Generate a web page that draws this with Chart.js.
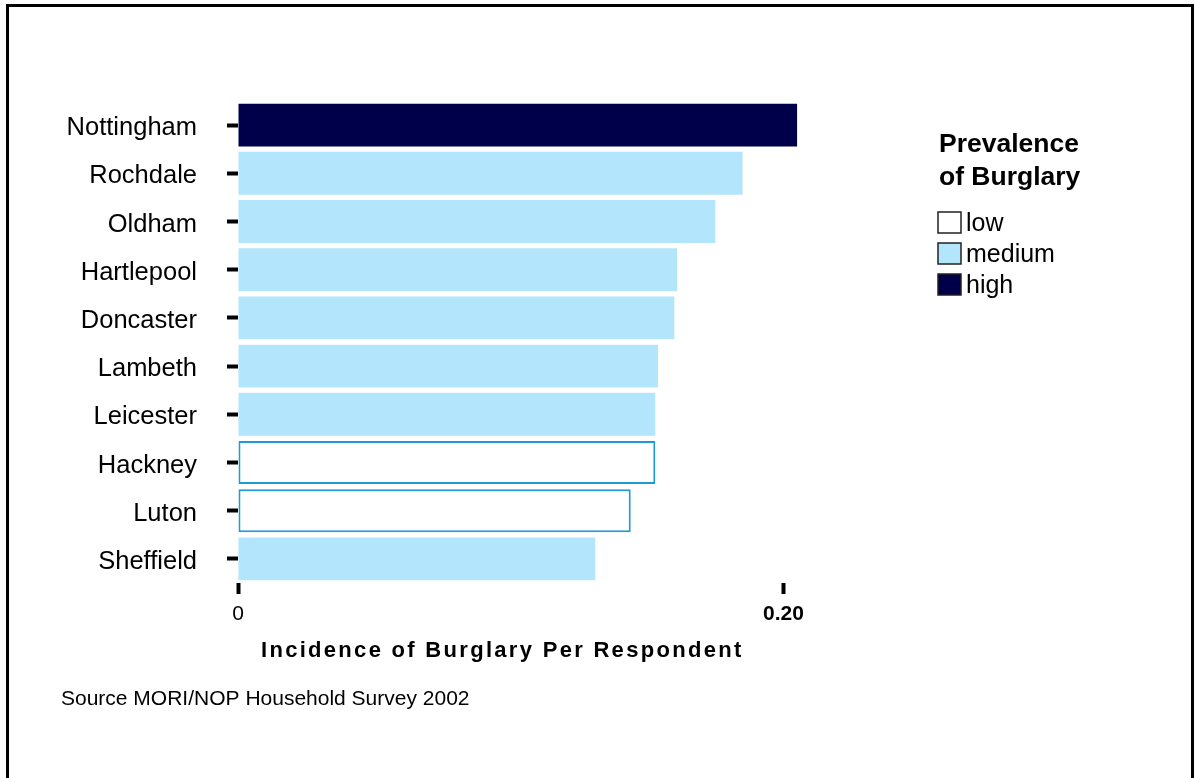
<!DOCTYPE html>
<html>
<head>
<meta charset="utf-8">
<script src="https://cdn.jsdelivr.net/npm/chart.js@4.4.1/dist/chart.umd.min.js"></script>
<style>
  html, body { margin: 0; padding: 0; background: #fff; }
  #wrap { position: relative; width: 1195px; height: 778px; overflow: hidden; }
  #frame {
    position: absolute; left: 6px; top: 4px; width: 1188px; height: 800px;
    border: 3px solid #000; border-bottom: none; box-sizing: border-box;
  }
  #chart { position: absolute; left: 0; top: 0; }
</style>
</head>
<body>
<div id="wrap">
  <div id="frame"></div>
  <canvas id="chart" width="1195" height="778"></canvas>
</div>
<script>
// Burglary incidence by area, coloured by prevalence band
const areas      = ['Nottingham', 'Rochdale', 'Oldham', 'Hartlepool', 'Doncaster',
                    'Lambeth', 'Leicester', 'Hackney', 'Luton', 'Sheffield'];
const incidence  = [0.205, 0.185, 0.175, 0.161, 0.160, 0.154, 0.153, 0.153, 0.144, 0.131];
const prevalence = ['high', 'medium', 'medium', 'medium', 'medium',
                    'medium', 'medium', 'low', 'low', 'medium'];
const xTicks      = [0, 0.20];
const xTickLabels = ['0', '0.20'];
const legendBands = ['low', 'medium', 'high'];

const FONT = '"Liberation Sans", Arial, Helvetica, sans-serif';
const fills = { low: '#ffffff', medium: '#b3e5fc', high: '#00004a' };
const edges = { low: '#1e9ad6', medium: '#b3e5fc', high: '#00004a' };

// axis title, legend and source note
const extras = {
  id: 'extras',
  afterDraw(chart) {
    const c = chart.ctx;
    c.save();
    c.fillStyle = '#000';
    c.textBaseline = 'alphabetic';
    c.textAlign = 'left';

    c.font = `bold 22px ${FONT}`;
    c.letterSpacing = '2.3px';
    c.fillText('Incidence of Burglary Per Respondent', 261, 657);
    c.letterSpacing = '0px';

    c.font = `21px ${FONT}`;
    c.fillText('Source MORI/NOP Household Survey 2002', 61, 705);

    c.font = `bold 26.5px ${FONT}`;
    c.fillText('Prevalence', 939, 152);
    c.fillText('of Burglary', 939, 185);

    c.font = `25px ${FONT}`;
    legendBands.forEach((band, i) => {
      const y = 212 + i * 31;
      c.fillStyle = fills[band];
      c.fillRect(938, y, 23, 21);
      c.strokeStyle = '#222';
      c.lineWidth = 1.5;
      c.strokeRect(938, y, 23, 21);
      c.fillStyle = '#000';
      c.fillText(band, 966, y + 19);
    });
    c.restore();
  }
};

new Chart(document.getElementById('chart'), {
  type: 'bar',
  data: {
    labels: areas,
    datasets: [{
      data: incidence,
      backgroundColor: prevalence.map(p => fills[p]),
      borderColor: prevalence.map(p => edges[p]),
      borderWidth: prevalence.map(p => p === 'low' ? 2 : 0),
      borderSkipped: false,
      categoryPercentage: 1,
      barPercentage: 0.89,
    }],
  },
  options: {
    indexAxis: 'y',
    responsive: false,
    animation: false,
    layout: { padding: { top: 101, right: 357, bottom: 0, left: 0 } },
    plugins: { legend: { display: false }, tooltip: { enabled: false } },
    scales: {
      x: {
        min: 0, max: 0.22,
        afterFit: s => { s.height = 195; },
        afterBuildTicks: s => { s.ticks = xTicks.map(v => ({ value: v })); },
        border: { display: false },
        grid: { drawOnChartArea: false, drawTicks: true, tickLength: 11, tickWidth: 4, tickColor: '#000' },
        ticks: {
          padding: 8,
          color: '#000',
          maxRotation: 0,
          autoSkip: false,
          font: ctx => ({ family: FONT, size: 21, weight: ctx.index === 1 ? 'bold' : 'normal' }),
          callback: (v, i) => xTickLabels[i],
        },
      },
      y: {
        afterFit: s => { s.width = 238; },
        border: { display: false },
        grid: { offset: false, drawOnChartArea: false, drawTicks: true, tickLength: 11, tickWidth: 4, tickColor: '#000' },
        ticks: { padding: 30, labelOffset: 3, color: '#000', font: { family: FONT, size: 25.5 } },
      },
    },
  },
  plugins: [extras],
});
</script>
</body>
</html>
